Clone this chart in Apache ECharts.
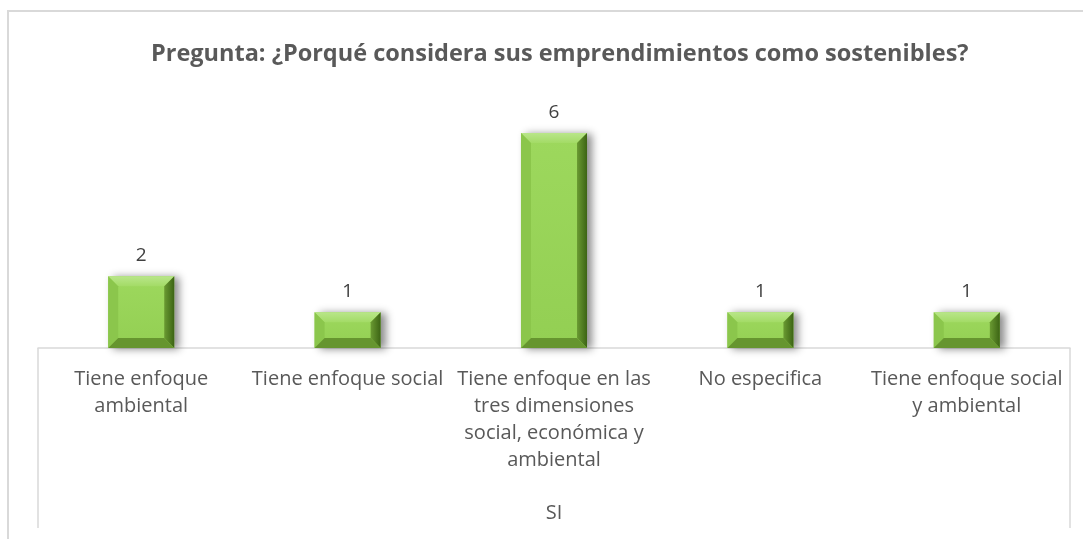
<!DOCTYPE html>
<html>
<head>
<meta charset="utf-8">
<script src="https://cdn.jsdelivr.net/npm/echarts@6/dist/echarts.min.js"></script>
<style>
  html, body { margin: 0; padding: 0; background: #fff; }
  #chart { width: 1083px; height: 539px; }
</style>
</head>
<body>
<div id="chart"></div>
<script>
// categorías (con saltos de línea como en el gráfico original)
const categories = [
  'Tiene enfoque\nambiental',
  'Tiene enfoque social',
  'Tiene enfoque en las\ntres dimensiones\nsocial, económica y\nambiental',
  'No especifica',
  'Tiene enfoque social\ny ambiental'
];
const values = [2, 1, 6, 1, 1];
const groupLabels = ['SI'];

const titleText = 'Pregunta: ¿Porqué considera sus emprendimientos como sostenibles?';
const FONT = '"Open Sans", sans-serif';

// barra con efecto biselado
function renderBar(params, api) {
  const idx = api.value(0);
  const v = api.value(1);
  const top = api.coord([idx, v]);
  const base = api.coord([idx, 0]);
  const bw = api.size([1, 0])[0] * 0.32;
  const l = top[0] - bw / 2, r = l + bw, t = top[1], b = base[1];
  const d = Math.min(10, (b - t) / 2 - 1);
  return {
    type: 'group',
    children: [
      {
        type: 'rect',
        shape: { x: l, y: t, width: bw, height: b - t },
        style: {
          fill: new echarts.graphic.LinearGradient(0, 0, 0, 1, [
            { offset: 0, color: '#9dd85d' },
            { offset: 1, color: '#93cf53' }
          ]),
          shadowBlur: 8, shadowOffsetX: 5, shadowOffsetY: 1,
          shadowColor: 'rgba(0,0,0,0.45)'
        }
      },
      {
        type: 'polygon',
        shape: { points: [[l, t], [r, t], [r - d, t + d], [l + d, t + d]] },
        style: {
          fill: new echarts.graphic.LinearGradient(0, 0, 0, 1, [
            { offset: 0, color: '#b9e68a' },
            { offset: 1, color: '#a3db66' }
          ])
        }
      },
      {
        type: 'polygon',
        shape: { points: [[l, t], [l + d, t + d], [l + d, b - d], [l, b]] },
        style: { fill: '#8bc64c' }
      },
      {
        type: 'polygon',
        shape: { points: [[r, t], [r, b], [r - d, b - d], [r - d, t + d]] },
        style: {
          fill: new echarts.graphic.LinearGradient(0, 0, 1, 0, [
            { offset: 0, color: '#6a9a32' },
            { offset: 1, color: '#3c6414' }
          ])
        }
      },
      {
        type: 'polygon',
        shape: { points: [[l, b], [r, b], [r - d, b - d], [l + d, b - d]] },
        style: { fill: '#66952f' }
      },
      {
        type: 'text',
        x: top[0], y: t - 11,
        style: {
          text: String(v),
          align: 'center', verticalAlign: 'bottom',
          font: '19px ' + FONT,
          fill: '#404040'
        }
      }
    ]
  };
}

const chart = echarts.init(document.getElementById('chart'));
chart.setOption({
  animation: false,
  backgroundColor: '#fff',
  title: {
    text: titleText,
    left: 146,
    top: 37,
    textStyle: { fontFamily: FONT, fontWeight: 'bold', fontSize: 23.5, color: '#595959' }
  },
  grid: { left: 38, right: 13, top: 133, bottom: 191 },
  xAxis: [
    {
      type: 'category',
      data: categories,
      axisLine: { show: true, lineStyle: { color: '#d9d9d9', width: 1.5 } },
      axisTick: { show: false },
      axisLabel: {
        interval: 0, margin: 18,
        fontFamily: FONT, fontSize: 20, lineHeight: 27,
        color: '#595959', align: 'center'
      }
    },
    {
      type: 'category',
      data: groupLabels,
      position: 'bottom',
      offset: 152,
      axisLine: { show: false },
      axisTick: { show: false },
      axisLabel: { margin: 0, fontFamily: FONT, fontSize: 20, lineHeight: 27, color: '#595959' }
    }
  ],
  yAxis: { type: 'value', min: 0, max: 6, show: false, splitLine: { show: false } },
  series: [{
    type: 'custom',
    xAxisIndex: 0,
    renderItem: renderBar,
    data: values.map((v, i) => [i, v])
  }],
  graphic: [
    { type: 'rect', shape: { x: 8, y: 11, width: 1100, height: 560 }, style: { fill: 'none', stroke: '#d9d9d9', lineWidth: 2 } },
    { type: 'line', shape: { x1: 38, y1: 348, x2: 38, y2: 528 }, style: { stroke: '#d9d9d9', lineWidth: 1.5 } },
    { type: 'line', shape: { x1: 1070, y1: 348, x2: 1070, y2: 528 }, style: { stroke: '#d9d9d9', lineWidth: 1.5 } }
  ]
});
window.addEventListener('resize', () => chart.resize());
</script>
</body>
</html>
